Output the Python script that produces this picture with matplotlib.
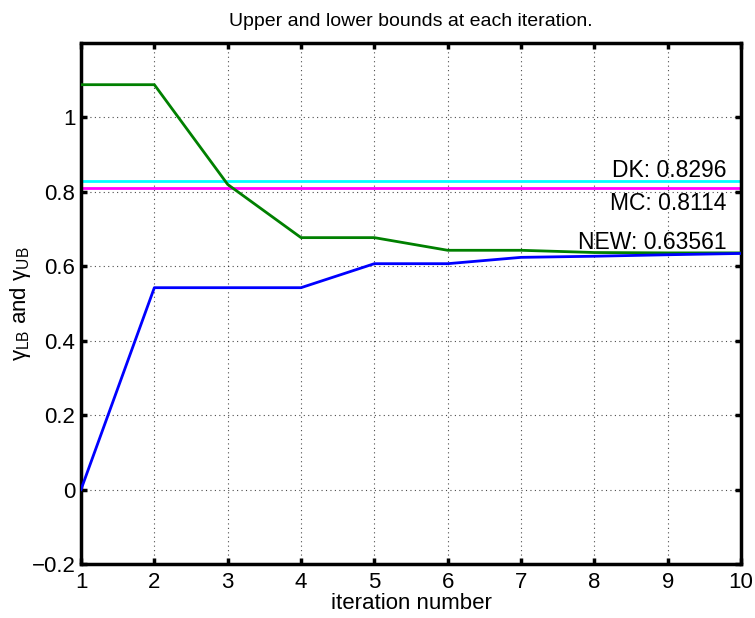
import matplotlib
matplotlib.use("Agg")
import matplotlib.pyplot as plt

plt.rcParams['font.family'] = ['Liberation Sans', 'DejaVu Sans']
plt.rcParams['mathtext.fontset'] = 'custom'
plt.rcParams['mathtext.rm'] = 'Liberation Sans'
plt.rcParams['mathtext.it'] = 'Liberation Sans'
plt.rcParams['mathtext.default'] = 'regular'

iterations = [1, 2, 3, 4, 5, 6, 7, 8, 9, 10]
upper_bound = [1.088, 1.088, 0.820, 0.677, 0.677, 0.643, 0.643, 0.637, 0.636, 0.636]
lower_bound = [0.0, 0.5425, 0.5425, 0.5425, 0.607, 0.607, 0.624, 0.627, 0.631, 0.6345]
dk_value = 0.8296
mc_value = 0.8114
new_value = 0.63561
x_ticks = [1, 2, 3, 4, 5, 6, 7, 8, 9, 10]
y_ticks = [-0.2, 0, 0.2, 0.4, 0.6, 0.8, 1]
y_tick_labels = ['\u22120.2', '0', '0.2', '0.4', '0.6', '0.8', '1']

fig = plt.figure(figsize=(7.55, 6.18), dpi=100)
ax = fig.add_axes([0.1073, 0.0874, 0.8742, 0.843])

ax.plot(iterations, upper_bound, color=(0, 0.5, 0), lw=2.0, zorder=3)
ax.plot(iterations, lower_bound, color=(0, 0, 1), lw=2.0, zorder=3)
ax.axhline(dk_value, color=(0, 1, 1), lw=2.0, zorder=2)
ax.axhline(mc_value, color=(1, 0, 1), lw=2.0, zorder=2)

ax.annotate(f'DK: {dk_value}', xy=(9.8, dk_value), xytext=(0, 3), textcoords='offset points',
            ha='right', va='baseline', fontsize=16.5, zorder=4)
ax.annotate(f'MC: {mc_value}', xy=(9.8, mc_value), xytext=(0, -3), textcoords='offset points',
            ha='right', va='top', fontsize=16.5, zorder=4)
ax.annotate(f'NEW: {new_value}', xy=(9.8, new_value), xytext=(0, 3), textcoords='offset points',
            ha='right', va='baseline', fontsize=16.5, zorder=4)

ax.set_xlim(1, 10)
ax.set_ylim(-0.2, 1.2)
ax.set_xticks(x_ticks)
ax.set_xticklabels([str(t) for t in x_ticks])
ax.set_yticks(y_ticks)
ax.set_yticklabels(y_tick_labels)

ax.grid(True, color='black', linestyle=(0, (1, 3)), linewidth=0.8, alpha=0.7)
ax.set_axisbelow(True)

for s in ax.spines.values():
    s.set_linewidth(2.5)
ax.tick_params(direction='in', length=4, width=2.5, top=True, right=True,
               labelsize=16)
ax.tick_params(axis='y', pad=4)
ax.tick_params(axis='x', pad=6)

ax.set_xlabel('iteration number', fontsize=16, labelpad=0)
ax.set_ylabel(r'$\gamma_{LB}$ and $\gamma_{UB}$', fontsize=16)
ax.yaxis.set_label_coords(-0.073, 0.5)
ax.set_title('Upper and lower bounds at each iteration.', fontsize=14, pad=12)

fig.savefig('out.png', dpi=100)
